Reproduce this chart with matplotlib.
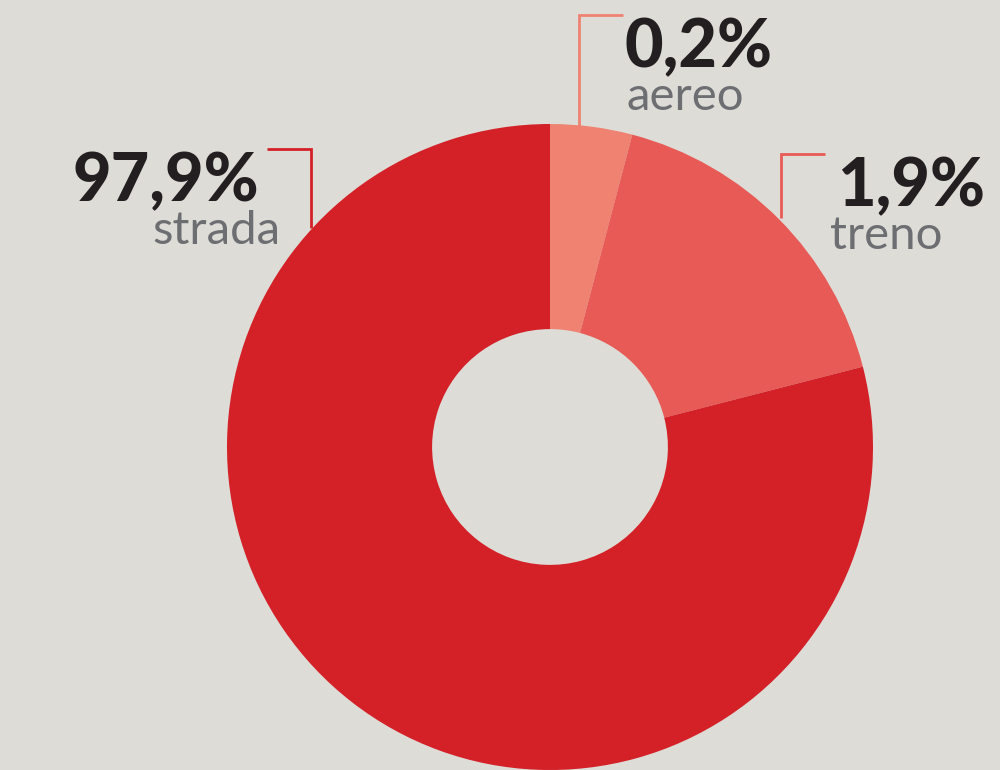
import matplotlib.pyplot as plt

# valori mostrati nelle etichette
modi = ['aereo', 'treno', 'strada']
quote = [0.2, 1.9, 97.9]
# ampiezza delle fette come disegnate nel grafico (non proporzionali)
fette = [4.1, 16.9, 79.0]
colori = ['#F08272', '#E85A55', '#D42027']

sfondo = '#DDDCD7'
W, H = 1000, 770

fig = plt.figure(figsize=(10, 7.7), dpi=100, facecolor=sfondo)
ax = fig.add_axes([0, 0, 1, 1])
ax.set_facecolor(sfondo)

cx, cy, r = 550, H - 447, 323
ax.pie(fette, colors=colori, startangle=90, counterclock=False,
       center=(cx, cy), radius=r, frame=True,
       wedgeprops=dict(width=r * 0.635, linewidth=0))
ax.set_xlim(0, W)
ax.set_ylim(0, H)
ax.set_aspect('equal')
ax.axis('off')

# staffe e testi: (x verticale, y orizzontale, y fine, x fine orizzontale,
#                  x numero, x nome, allineamento)
layout = {
    'aereo': (579, 15, 128, 623, 625, 627, 'left'),
    'treno': (781, 154, 218, 825, 837, 830, 'left'),
    'strada': (311, 149, 228, 267, 259, 281, 'right'),
}

for modo, q, col in zip(modi, quote, colori):
    xv, yh, yend, xh, xn, xl, ha = layout[modo]
    ax.plot([xh, xv, xv], [H - yh, H - yh, H - yend], color=col, lw=2,
            solid_capstyle='butt', solid_joinstyle='miter')
    testo = f'{q:.1f}%'.replace('.', ',')
    ax.text(xn, H - yh - 52, testo, ha=ha, va='baseline', fontsize=48,
            fontweight='black', family='Lato', color='#231F20')
    ax.text(xl, H - yh - 95, modo, ha=ha, va='baseline', fontsize=34,
            family='Lato', color='#6D6E71')

fig.savefig('out.png', dpi=100, facecolor=sfondo)
